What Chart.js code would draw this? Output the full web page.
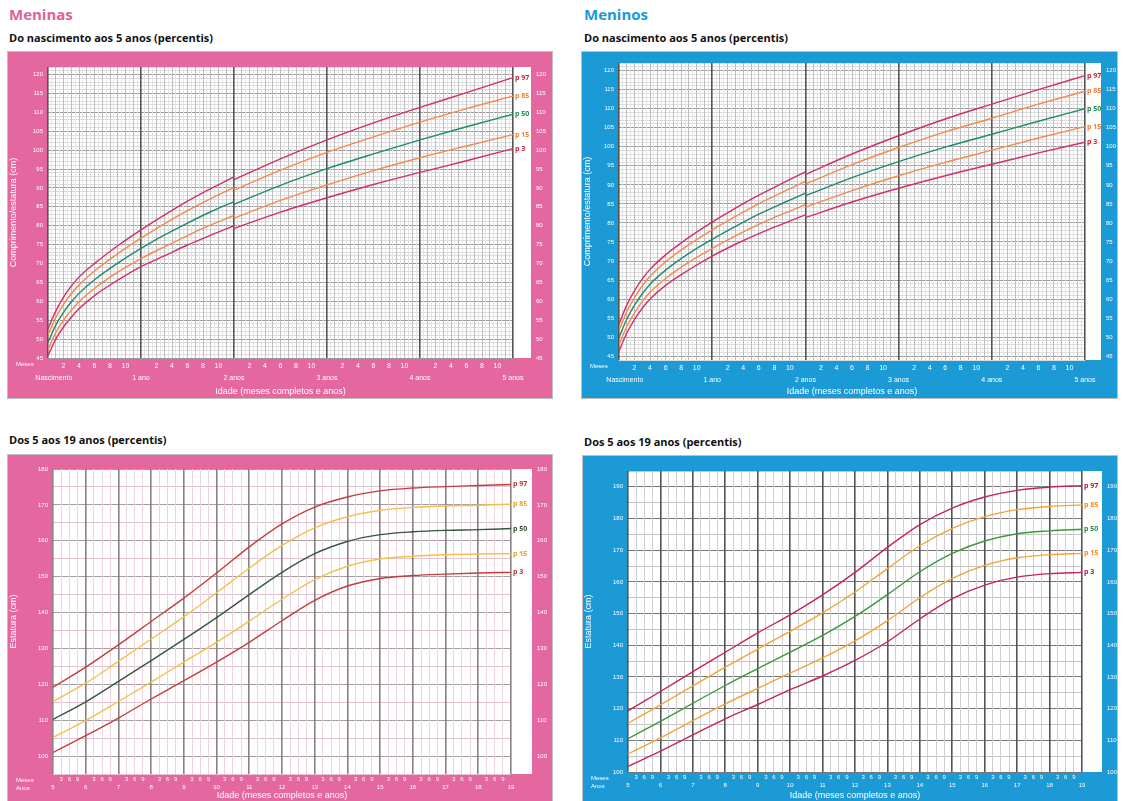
<!DOCTYPE html>
<html>
<head>
<meta charset="utf-8">
<script src="https://cdn.jsdelivr.net/npm/chart.js@4"></script>
<style>
  body { margin:0; width:1123px; height:801px; overflow:hidden; background:#fff; font-family:"Open Sans", "Noto Sans", sans-serif; position:relative; }
  .t1 { position:absolute; font-weight:bold; font-size:15px; }
  .t2 { position:absolute; font-weight:bold; font-size:11px; color:#111; }
  .frame { position:absolute; box-shadow:0 0 0 1px rgba(0,0,0,0.25); }
  .frame canvas { display:block; }
</style>
</head>
<body>
<div class="t1" style="left:9px;top:4px;color:#e0609a">Meninas</div>
<div class="t2" style="left:9px;top:30px">Do nascimento aos 5 anos (percentis)</div>
<div class="t1" style="left:584px;top:4px;color:#1b9ad6">Meninos</div>
<div class="t2" style="left:584px;top:30px">Do nascimento aos 5 anos (percentis)</div>
<div class="t2" style="left:9px;top:432px">Dos 5 aos 19 anos (percentis)</div>
<div class="t2" style="left:584px;top:434px">Dos 5 aos 19 anos (percentis)</div>

<div class="frame" style="left:8px;top:52px;width:544px;height:346px;background:#e4679f"><canvas id="g05" width="544" height="346"></canvas></div>
<div class="frame" style="left:582px;top:52px;width:535px;height:346px;background:#1b9ad6"><canvas id="b05" width="535" height="346"></canvas></div>
<div class="frame" style="left:8px;top:455px;width:544px;height:346px;background:#e4679f"><canvas id="g519" width="544" height="346"></canvas></div>
<div class="frame" style="left:583px;top:456px;width:534px;height:345px;background:#1b9ad6"><canvas id="b519" width="534" height="345"></canvas></div>

<script>
// idade em meses (0-5 anos); 24 aparece duas vezes: comprimento e depois estatura
var months = [0, 1, 2, 3, 4, 6, 9, 12, 15, 18, 21, 24, 24, 30, 36, 42, 48, 54, 60]
// idade em anos (5-19 anos)
var years = [5, 6, 7, 8, 9, 10, 11, 12, 13, 14, 15, 16, 17, 18, 19]
var percentis = ['p 97', 'p 85', 'p 50', 'p 15', 'p 3']

// Meninas 0-5 anos (cm)
var girls05_p97 = [52.7, 57.4, 61.1, 64.0, 66.4, 70.0, 74.7, 78.9, 82.8, 86.5, 89.8, 92.9, 92.2, 97.7, 102.7, 107.2, 111.3, 115.2, 119.2]
var girls05_p85 = [51.1, 55.7, 59.2, 62.0, 64.3, 68.0, 72.6, 76.7, 80.5, 84.0, 87.2, 90.1, 89.4, 94.7, 99.4, 103.5, 107.4, 111.0, 114.3]
var girls05_p50 = [49.1, 53.7, 57.1, 59.8, 62.1, 65.7, 70.1, 74.0, 77.5, 80.7, 83.7, 86.4, 85.7, 90.7, 95.1, 99.0, 102.7, 106.2, 109.5]
var girls05_p15 = [47.2, 51.7, 55.0, 57.6, 59.9, 63.4, 67.7, 71.3, 74.4, 77.4, 80.2, 82.7, 82.0, 86.7, 90.8, 94.6, 98.0, 101.1, 104.1]
var girls05_p3  = [45.6, 50.0, 53.2, 55.8, 58.0, 61.5, 65.6, 69.2, 72.0, 74.9, 77.5, 80.0, 79.3, 83.6, 87.4, 90.9, 94.1, 97.2, 100.4]

// Meninos 0-5 anos (cm)
var boys05_p97 = [53.4, 58.4, 62.2, 65.3, 67.8, 71.6, 76.2, 80.2, 83.9, 87.3, 90.4, 93.4, 92.7, 98.1, 102.9, 107.3, 111.2, 115.0, 118.7]
var boys05_p85 = [51.8, 56.7, 60.4, 63.5, 66.0, 69.8, 74.3, 78.2, 81.7, 85.1, 88.0, 90.9, 90.2, 95.3, 99.8, 103.9, 107.5, 111.2, 114.6]
var boys05_p50 = [49.9, 54.7, 58.4, 61.4, 63.9, 67.6, 72.0, 75.7, 79.1, 82.3, 85.1, 87.8, 87.1, 91.9, 96.1, 99.9, 103.3, 106.7, 110.0]
var boys05_p15 = [48.0, 52.8, 56.4, 59.4, 61.8, 65.4, 69.7, 73.3, 76.6, 79.6, 82.3, 84.8, 84.1, 88.5, 92.4, 95.9, 99.1, 102.3, 105.3]
var boys05_p3  = [46.3, 51.1, 54.7, 57.6, 60.0, 63.6, 67.7, 71.3, 74.4, 77.2, 79.7, 82.1, 81.4, 85.5, 89.1, 92.4, 95.4, 98.4, 101.2]

// Meninas 5-19 anos (cm)
var girls519_p97 = [119.2, 124.8, 131.0, 137.5, 144.0, 151.0, 158.3, 164.7, 169.4, 172.2, 173.9, 174.7, 175.1, 175.4, 175.7]
var girls519_p85 = [115.2, 120.3, 126.4, 132.6, 138.8, 145.5, 152.4, 158.7, 163.6, 166.7, 168.5, 169.3, 169.7, 169.9, 170.2]
var girls519_p50 = [110.2, 115.1, 120.8, 126.6, 132.5, 138.6, 145.0, 151.2, 156.4, 159.8, 161.7, 162.5, 162.9, 163.1, 163.4]
var girls519_p15 = [105.2, 109.9, 115.2, 120.6, 126.2, 131.7, 137.6, 143.7, 149.2, 152.9, 154.9, 155.7, 156.1, 156.3, 156.4]
var girls519_p3  = [101.0, 105.7, 110.6, 115.9, 121.0, 126.2, 131.7, 137.7, 143.4, 147.4, 149.5, 150.3, 150.7, 151.0, 151.2]

// Meninos 5-19 anos (cm)
var boys519_p97 = [119.3, 125.4, 131.7, 137.8, 143.9, 149.6, 155.9, 163.0, 170.9, 178.1, 183.3, 186.8, 188.9, 189.9, 190.4]
var boys519_p85 = [115.4, 121.2, 127.2, 133.1, 138.8, 144.4, 150.2, 156.8, 164.2, 171.4, 176.9, 180.6, 182.8, 183.8, 184.3]
var boys519_p50 = [110.5, 116.0, 121.7, 127.3, 132.6, 137.8, 143.1, 149.1, 156.0, 163.2, 169.0, 172.9, 175.2, 176.1, 176.6]
var boys519_p15 = [105.7, 110.8, 116.2, 121.5, 126.4, 131.2, 136.0, 141.4, 147.8, 155.0, 161.1, 165.2, 167.6, 168.6, 169.0]
var boys519_p3  = [101.8, 106.6, 111.7, 116.8, 121.3, 126.0, 130.3, 135.2, 141.1, 148.3, 154.7, 159.0, 161.5, 162.6, 163.0]

var yearNames = ['      Nascimento', '1 ano', '2 anos', '3 anos', '4 anos', '5 anos']

function pts(xs, ys, from, to) {
  var out = []
  for (var i = from; i < to; i++) out.push({ x: xs[i], y: ys[i] })
  return out
}

// fundo branco da grelha + faixa branca à direita para os rótulos
var whiteBg = {
  id: 'whiteBg',
  beforeDraw: function (chart, args, o) {
    var a = chart.chartArea, c = chart.ctx
    c.save()
    c.fillStyle = '#fff'
    c.fillRect(a.left, a.top, a.right - a.left + o.strip, a.bottom - a.top)
    c.restore()
  }
}

var endLabels = {
  id: 'endLabels',
  afterDatasetsDraw: function (chart) {
    var c = chart.ctx
    c.save()
    c.font = 'bold 7px "Open Sans", sans-serif'
    c.textBaseline = 'middle'
    chart.data.datasets.forEach(function (ds, i) {
      if (!ds.showEnd) return
      var el = chart.getDatasetMeta(i).data
      var p = el[el.length - 1]
      c.fillStyle = ds.labelColor
      c.fillText(ds.label, p.x + 2, p.y)
    })
    c.restore()
  }
}

var cornerText = {
  id: 'cornerText',
  afterDraw: function (chart, args, o) {
    var c = chart.ctx, x = chart.scales.x
    c.save()
    c.fillStyle = '#fff'
    c.font = '6px "Liberation Sans", sans-serif'
    c.textBaseline = 'top'
    o.lines.forEach(function (t, i) {
      c.fillText(t, 8, x.top + 3 + i * o.step)
    })
    c.restore()
  }
}

function noPad(s) { s.paddingTop = 0; s.paddingBottom = 0 }

function makeChart(id, cfg) {
  // separa comprimento (deitado) e estatura (em pé) onde a idade se repete
  var split = cfg.xs.length
  for (var k = 1; k < cfg.xs.length; k++) if (cfg.xs[k] === cfg.xs[k - 1]) split = k
  var datasets = []
  cfg.series.forEach(function (s, i) {
    var base = {
      label: percentis[i],
      borderColor: cfg.colors[i],
      labelColor: cfg.labelColors[i],
      borderWidth: 1.4,
      pointRadius: 0,
      cubicInterpolationMode: 'monotone',
      fill: false
    }
    if (split < cfg.xs.length) {
      datasets.push(Object.assign({}, base, { data: pts(cfg.xs, s, 0, split), showEnd: false }))
    }
    datasets.push(Object.assign({}, base, { data: pts(cfg.xs, s, split < cfg.xs.length ? split : 0, cfg.xs.length), showEnd: true }))
  })
  var gridY = function (ctx) {
    var v = Math.round(ctx.tick.value)
    if (v % cfg.yMajor === 0) return cfg.gridMajor
    if (v % 5 === 0) return cfg.gridMid
    return cfg.gridMinor
  }
  var tickY = function (v) { return v % cfg.yLabelStep === 0 ? String(v) : '' }
  return new Chart(document.getElementById(id), {
    type: 'line',
    data: { datasets: datasets },
    plugins: [whiteBg, endLabels, cornerText],
    options: {
      responsive: false,
      animation: false,
      devicePixelRatio: 1,
      layout: { padding: { top: cfg.padTop, left: 0, right: 0, bottom: 0 } },
      plugins: {
        legend: { display: false },
        tooltip: { enabled: false },
        whiteBg: { strip: cfg.strip },
        cornerText: { lines: cfg.corner, step: cfg.cornerStep }
      },
      scales: {
        x: {
          type: 'linear',
          min: cfg.xMin, max: cfg.xMax,
          afterFit: function (s) { s.height = cfg.xHeight },
          afterBuildTicks: function (s) {
            var t = []
            for (var v = cfg.xMin; v <= cfg.xMax + 1e-9; v += cfg.xStep) t.push({ value: Math.round(v * 1000) / 1000 })
            s.ticks = t
          },
          border: { display: false },
          grid: {
            z: -1,
            drawTicks: false,
            color: function (ctx) { return cfg.xGridColor(ctx.tick.value) },
            lineWidth: function (ctx) { return cfg.xGridWidth(ctx.tick.value) }
          },
          ticks: {
            autoSkip: false, maxRotation: 0, padding: cfg.tickPad,
            color: '#fff',
            font: { size: cfg.tickSize, family: '"Liberation Sans", sans-serif', lineHeight: cfg.tickLine },
            callback: cfg.xLabel
          },
          title: {
            display: true, text: 'Idade (meses completos e anos)', color: '#fff',
            font: { size: 9, family: '"Liberation Sans", sans-serif' },
            padding: { top: 0, bottom: cfg.titlePad }
          }
        },
        y: {
          position: 'left',
          min: cfg.yMin, max: cfg.yMax,
          afterFit: function (s) { s.width = cfg.leftW; noPad(s) },
          border: { display: false },
          grid: { z: -2, drawTicks: false, color: gridY },
          ticks: {
            stepSize: 1, autoSkip: false, padding: 5, color: '#fff',
            font: { size: 6, family: '"Liberation Sans", sans-serif' },
            callback: tickY
          },
          title: {
            display: true, text: cfg.yTitle, color: '#fff',
            font: { size: 9, family: '"Liberation Sans", sans-serif' },
            padding: { top: 0, bottom: 2 }
          }
        },
        y2: {
          position: 'right',
          min: cfg.yMin, max: cfg.yMax,
          afterFit: function (s) { s.width = cfg.rightW; noPad(s) },
          border: { display: false },
          grid: { display: false, drawTicks: false },
          ticks: {
            stepSize: 1, autoSkip: false, padding: cfg.strip + 5, color: '#fff',
            font: { size: 6, family: '"Liberation Sans", sans-serif' },
            callback: tickY
          }
        }
      }
    }
  })
}

// 0-5 anos
function x05Label(v) {
  var h = Math.round(v * 2)
  if (h % 2 !== 0) return ''
  var m = h / 2
  if (m % 12 === 0) return ['', yearNames[m / 12]]
  if (m % 2 === 0) return [String(m % 12), '']
  return ''
}
function x05Color(v) {
  var h = Math.round(v * 2)
  if (h % 24 === 0) return '#555'
  if (h % 2 === 0) return '#bdbdbd'
  return '#e4e4e4'
}
function x05Width(v) { return Math.round(v * 2) % 24 === 0 ? 1.6 : 1 }

var colors05 = ['#d22f6a', '#f18a4f', '#1f8a6e', '#f18a4f', '#d22f6a']
var label05 = ['#d0203a', '#f07d32', '#1f8a4e', '#f07d32', '#d0203a']

makeChart('g05', {
  xs: months, series: [girls05_p97, girls05_p85, girls05_p50, girls05_p15, girls05_p3],
  colors: colors05, labelColors: label05,
  xMin: 0, xMax: 60, xStep: 0.5, xLabel: x05Label, xGridColor: x05Color, xGridWidth: x05Width,
  yMin: 45, yMax: 122, yMajor: 5, yLabelStep: 5,
  gridMajor: '#9a9a9a', gridMid: '#9a9a9a', gridMinor: '#dcdcdc',
  padTop: 15, leftW: 40, rightW: 39, xHeight: 40, strip: 18,
  tickSize: 7, tickLine: 1.7, tickPad: 2, titlePad: 1,
  yTitle: 'Comprimento/estatura (cm)', corner: ['Meses'], cornerStep: 9
})
makeChart('b05', {
  xs: months, series: [boys05_p97, boys05_p85, boys05_p50, boys05_p15, boys05_p3],
  colors: colors05, labelColors: label05,
  xMin: 0, xMax: 60, xStep: 0.5, xLabel: x05Label, xGridColor: x05Color, xGridWidth: x05Width,
  yMin: 44, yMax: 122, yMajor: 5, yLabelStep: 5,
  gridMajor: '#9a9a9a', gridMid: '#9a9a9a', gridMinor: '#dcdcdc',
  padTop: 11, leftW: 37, rightW: 32, xHeight: 38, strip: 16,
  tickSize: 7, tickLine: 1.7, tickPad: 2, titlePad: 1,
  yTitle: 'Comprimento/estatura (cm)', corner: ['Meses'], cornerStep: 9
})

// 5-19 anos
function x519Label(v) {
  var q = Math.round(v * 4)
  if (q % 4 === 0) return ['', String(q / 4)]
  return [String((q % 4) * 3), '']
}
function x519Width(v) { return Math.round(v * 4) % 4 === 0 ? 1.6 : 1 }

makeChart('g519', {
  xs: years, series: [girls519_p97, girls519_p85, girls519_p50, girls519_p15, girls519_p3],
  colors: ['#c63c3c', '#f2c04e', '#33573a', '#f2c04e', '#c63c3c'],
  labelColors: ['#c0302a', '#e8a020', '#2e4f34', '#e8a020', '#c0302a'],
  xMin: 5, xMax: 19, xStep: 0.25, xLabel: x519Label,
  xGridColor: function (v) { return Math.round(v * 4) % 4 === 0 ? '#8c7f82' : '#ecd3dc' },
  xGridWidth: x519Width,
  yMin: 95, yMax: 180, yMajor: 10, yLabelStep: 10,
  gridMajor: '#a69ca2', gridMid: '#e2c2cf', gridMinor: 'rgba(0,0,0,0)',
  padTop: 14, leftW: 45, rightW: 41, xHeight: 27, strip: 21,
  tickSize: 6, tickLine: 1.35, tickPad: 1, titlePad: 0,
  yTitle: 'Estatura (cm)', corner: ['Meses', 'Anos'], cornerStep: 8
})
makeChart('b519', {
  xs: years, series: [boys519_p97, boys519_p85, boys519_p50, boys519_p15, boys519_p3],
  colors: ['#c4245a', '#f2a43a', '#3b973c', '#f2a43a', '#c4245a'],
  labelColors: ['#c8103a', '#f08a20', '#2e8a3a', '#f08a20', '#c8103a'],
  xMin: 5, xMax: 19, xStep: 0.25, xLabel: x519Label,
  xGridColor: function (v) { return Math.round(v * 4) % 4 === 0 ? '#555' : '#cfcfcf' },
  xGridWidth: x519Width,
  yMin: 100, yMax: 195, yMajor: 10, yLabelStep: 10,
  gridMajor: '#777', gridMid: '#c4c4c4', gridMinor: 'rgba(0,0,0,0)',
  padTop: 15, leftW: 45, rightW: 35, xHeight: 29, strip: 20,
  tickSize: 6, tickLine: 1.35, tickPad: 1, titlePad: 0,
  yTitle: 'Estatura (cm)', corner: ['Meses', 'Anos'], cornerStep: 8
})
</script>
</body>
</html>
